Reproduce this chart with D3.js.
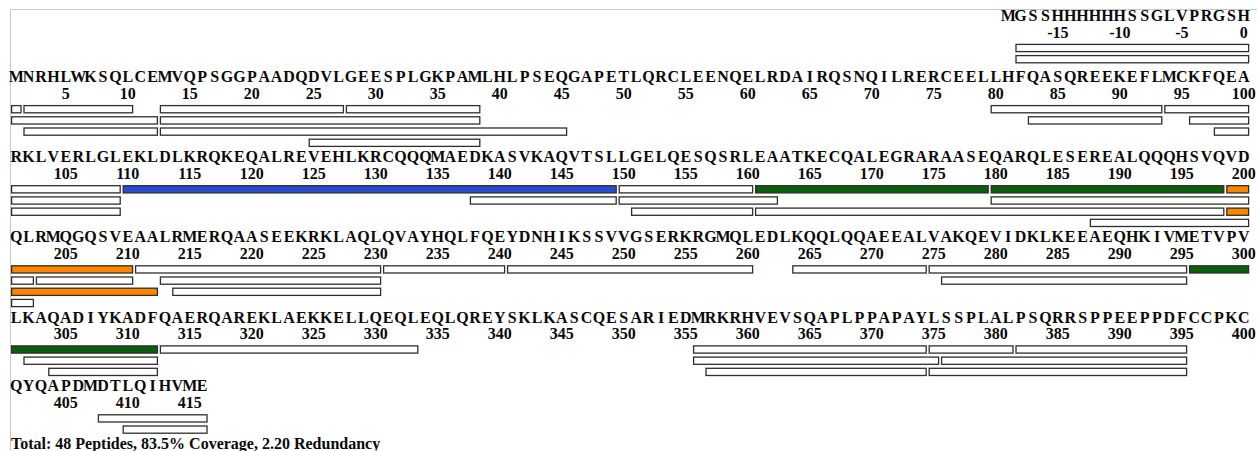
<!DOCTYPE html>
<html>
<head>
<meta charset="utf-8">
<script src="https://cdn.jsdelivr.net/npm/d3@7"></script>
<style>
  html, body { margin: 0; padding: 0; background: #fff; }
  svg { display: block; }
  text { font-family: "Liberation Serif", "Times New Roman", serif; font-weight: bold; fill: #0a0a0a; }
</style>
</head>
<body>
<svg id="chart" width="1257" height="451"></svg>
<script>
// Expression tag, numbered -19 .. 0
const tagSequence = "MGSSHHHHHHSSGLVPRGSH";
// Protein sequence, numbered 1 .. 416, stored per 100-residue row
const sequenceRows = [
  "MNRHLWKSQLCEMVQPSGGPAADQDVLGEESPLGKPAMLHLPSEQGAPETLQRCLEENQELRDAIRQSNQILRERCEELLHFQASQREEKEFLMCKFQEA",
  "RKLVERLGLEKLDLKRQKEQALREVEHLKRCQQQMAEDKASVKAQVTSLLGELQESQSRLEAATKECQALEGRARAASEQARQLESEREALQQQHSVQVD",
  "QLRMQGQSVEAALRMERQAASEEKRKLAQLQVAYHQLFQEYDNHIKSSVVGSERKRGMQLEDLKQQLQQAEEALVAKQEVIDKLKEEAEQHKIVMETVPV",
  "LKAQADIYKADFQAERQAREKLAEKKELLQEQLEQLQREYSKLKASCQESARIEDMRKRHVEVSQAPLPPAPAYLSSPLALPSQRRSPPEEPPDFCCPKC",
  "QYQAPDMDTLQIHVME"
];

// Identified peptides (first and last residue) and their highlight class
const peptideStarts = [-18, -18, 2, 2, 13, 13, 13, 25, 28, 80, 83, 94, 96, 98, 110, 138,
  150, 150, 151, 161, 161, 180, 180, 188, 199, 199, 203, 211, 213, 214, 231, 241,
  264, 275, 276, 296, 302, 304, 313, 356, 356, 357, 375, 375, 376, 382, 408, 410];
const peptideEnds = [1, 12, 10, 12, 27, 38, 45, 38, 38, 93, 93, 109, 109, 109, 149, 149,
  160, 162, 160, 179, 198, 198, 202, 202, 210, 212, 210, 230, 230, 230, 240, 260,
  274, 295, 295, 312, 312, 312, 333, 374, 375, 374, 381, 395, 395, 395, 416, 416];
const peptideClasses = ["none", "none", "none", "none", "none", "none", "none", "none", "none", "none", "none", "none", "none", "none", "blue", "none",
  "none", "none", "none", "green", "none", "green", "none", "none", "orange", "orange", "none", "none", "none", "none", "none", "none",
  "none", "none", "none", "green", "none", "none", "none", "none", "none", "none", "none", "none", "none", "none", "none", "none"];

const classNames = ["none", "blue", "green", "orange"];
const classFills = ["#ffffff", "#2a4ad0", "#0b5e0b", "#ff8400"];

const residuesPerRow = 100;
const tickStep = 5;

// ---- layout constants ----
const W = 1257, H = 451;
const gridLeft = 10, gridRight = 1250;
const fontSize = 16;
const seqToTicks = 16.5, ticksToLane = 10.5, laneStep = 11.2, laneToNext = 19.5, barH = 7.2;
const tagExtraGap = 3.5;

const svg = d3.select("#chart");

// column scale: column index (0..100) -> pixel x
const x = d3.scaleLinear().domain([0, residuesPerRow]).range([gridLeft, gridRight]);
const fill = d3.scaleOrdinal().domain(classNames).range(classFills);

// build residue list with their row/column
const rows = [];
rows.push({ residues: Array.from(tagSequence, (aa, i) => ({ aa, num: i - tagSequence.length + 1 })), offset: residuesPerRow - tagSequence.length });
sequenceRows.forEach((s, r) => rows.push({ residues: Array.from(s, (aa, i) => ({ aa, num: r * residuesPerRow + i + 1 })), offset: 0 }));

function rowOf(num) { return num <= 0 ? 0 : Math.ceil(num / residuesPerRow); }
function colOf(num) {
  if (num <= 0) return residuesPerRow - tagSequence.length + (num + tagSequence.length - 1);
  return (num - 1) % residuesPerRow;
}

// lane assignment: peptides sorted by start, then end; first lane that is free
const peptides = peptideStarts.map((s, i) => ({ start: s, end: peptideEnds[i], cls: peptideClasses[i] }));
const order = d3.range(peptides.length).sort((a, b) => d3.ascending(peptides[a].start, peptides[b].start) || d3.ascending(peptides[a].end, peptides[b].end));
const laneEnds = [];
order.forEach(i => {
  const p = peptides[i];
  let lane = laneEnds.findIndex(e => e < p.start);
  if (lane < 0) { lane = laneEnds.length; laneEnds.push(p.end); } else laneEnds[lane] = p.end;
  p.lane = lane;
});

// split peptides into per-row segments
const segments = [];
peptides.forEach(p => {
  for (let r = rowOf(p.start); r <= rowOf(p.end); r++) {
    const first = r === rowOf(p.start) ? colOf(p.start) : 0;
    const last = r === rowOf(p.end) ? colOf(p.end) : residuesPerRow - 1;
    segments.push({ row: r, c0: first, c1: last, lane: p.lane, cls: p.cls });
  }
});

// vertical layout of each row
let y = 21;
rows.forEach((row, r) => {
  row.seqY = y;
  row.tickY = y + seqToTicks;
  row.laneY0 = row.tickY + ticksToLane;
  const nLanes = d3.max(segments.filter(s => s.row === r), s => s.lane + 1) || 0;
  row.nLanes = nLanes;
  y = row.laneY0 + (nLanes - 1) * laneStep + laneToNext + (r === 0 ? tagExtraGap : 0);
});
const footerY = y;

// frame
svg.append("line").attr("x1", gridLeft).attr("x2", W).attr("y1", 9.5).attr("y2", 9.5).attr("stroke", "#c8c8c8").attr("stroke-width", 1);
svg.append("line").attr("x1", gridLeft + 0.5).attr("x2", gridLeft + 0.5).attr("y1", 9.5).attr("y2", H).attr("stroke", "#c8c8c8").attr("stroke-width", 1);

const cellW = x(1) - x(0);

rows.forEach((row, r) => {
  const g = svg.append("g");
  // residues
  g.selectAll("text.aa").data(row.residues).join("text")
    .attr("class", "aa")
    .attr("x", (d, i) => x(row.offset + i) + cellW / 2)
    .attr("y", row.seqY)
    .attr("text-anchor", "middle")
    .attr("font-size", fontSize)
    .text(d => d.aa);
  // residue numbers
  g.selectAll("text.num").data(row.residues.filter(d => d.num % tickStep === 0)).join("text")
    .attr("class", "num")
    .attr("x", d => x(colOf(d.num)) + cellW / 2)
    .attr("y", row.tickY)
    .attr("text-anchor", "middle")
    .attr("font-size", fontSize)
    .text(d => d.num);
  // peptide bars
  g.selectAll("rect").data(segments.filter(s => s.row === r)).join("rect")
    .attr("x", d => x(d.c0) + 1.6)
    .attr("width", d => x(d.c1 + 1) - x(d.c0) - 3)
    .attr("y", d => row.laneY0 + d.lane * laneStep - barH / 2)
    .attr("height", barH)
    .attr("fill", d => fill(d.cls))
    .attr("stroke", "#2e2e2e")
    .attr("stroke-width", 1.3);
});

// summary line
const covered = new Set();
let totalLen = 0;
peptides.forEach(p => { totalLen += p.end - p.start + 1; for (let k = p.start; k <= p.end; k++) covered.add(k); });
const seqLen = tagSequence.length + sequenceRows.join("").length;
const coverage = covered.size / seqLen * 100;
const redundancy = totalLen / covered.size;
svg.append("text")
  .attr("x", 11).attr("y", footerY)
  .attr("font-size", fontSize)
  .text(`Total: ${peptides.length} Peptides, ${coverage.toFixed(1)}% Coverage, ${redundancy.toFixed(2)} Redundancy`);
</script>
</body>
</html>
